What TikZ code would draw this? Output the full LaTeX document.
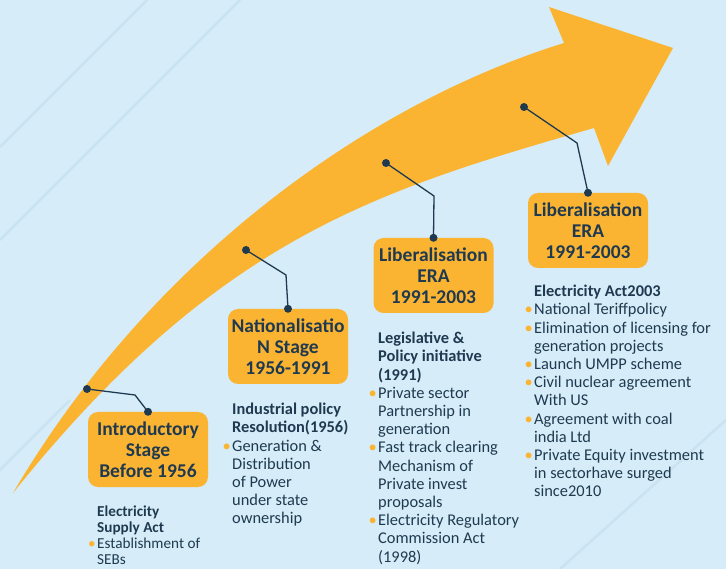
\documentclass[tikz,border=0pt]{standalone}
\usepackage{fontspec}
\setmainfont{Carlito}
\definecolor{bg}{HTML}{D6ECF8}
\definecolor{bgline}{HTML}{C3DDEC}
\definecolor{org}{HTML}{FBB432}
\definecolor{navy}{HTML}{1F3A50}
\newcommand{\mybul}{\llap{\textcolor{org}{\textbullet}\hspace{1.5pt}}}
\begin{document}
\begin{tikzpicture}[x=1pt,y=-1pt,
  stagebox/.style={fill=org, rounded corners=10pt, minimum width=120pt, minimum height=75pt,
    align=center, text=navy, inner sep=0pt, font=\bfseries\fontsize{19.5}{21}\selectfont},
  body/.style={anchor=north west, align=left, inner sep=0pt, text=navy,
    font=\fontsize{16.4}{18.2}\selectfont},
  conn/.style={draw=navy, line width=1.3pt},
  jdot/.style={circle, fill=navy, inner sep=0pt, minimum size=8pt}]
\useasboundingbox (0,0) rectangle (726,569);
\fill[bg] (0,0) rectangle (726,569);
% faint background texture
\begin{scope}[bgline, line width=2.5pt, opacity=0.6]
\draw (0,147) -- (147,0);
\draw (0,240) -- (240,0);
\draw (0,470) -- (70,400);
\draw (560,569) -- (726,420);
\end{scope}
% the big curved arrow
\fill[org] (13,493) .. controls (148,263) and (364,105) .. (564,43)
  -- (549,7) -- (673,48) -- (608,166) -- (594,128)
  .. controls (374,191) and (216,240) .. (13,493) -- cycle;
% stage boxes
\node[stagebox] (s1) at (148,449.5) {Introductory\\Stage\\Before 1956};
\node[stagebox] (s2) at (288,346.5) {Nationalisatio\\N Stage\\1956-1991};
\node[stagebox] (s3) at (433.5,275.5) {Liberalisation\\ERA\\1991-2003};
\node[stagebox] (s4) at (588,230.5) {Liberalisation\\ERA\\1991-2003};
% connectors
\node[jdot] (d1) at (87,389) {};
\node[jdot] (d2) at (246,250) {};
\node[jdot] (d3) at (386,163) {};
\node[jdot] (d4) at (524,107) {};
\coordinate (e1) at (135,395);
\coordinate (e2) at (286,275);
\coordinate (e3) at (434,196);
\coordinate (e4) at (577,143);
\node[jdot] (k1) at (s1.north) {};
\node[jdot] (k2) at (s2.north) {};
\node[jdot] (k3) at (s3.north) {};
\node[jdot] (k4) at (s4.north) {};
\draw[conn] (d1.center) -- (e1) -- (k1.center);
\draw[conn] (d2.center) -- (e2) -- (k2.center);
\draw[conn] (d3.center) -- (e3) -- (k3.center);
\draw[conn] (d4.center) -- (e4) -- (k4.center);
% text blocks
\node[body, font=\fontsize{15.2}{16.1}\selectfont] (b1) at (97,505.5)
  {\textbf{Electricity}\\\textbf{Supply Act}\\\mybul Establishment of\\SEBs};
\node[body] (b2) at (232,403)
  {\textbf{Industrial policy}\\\textbf{Resolution(1956)}\\\mybul Generation \&\\Distribution\\of Power\\under state\\ownership};
\node[body] (b3) at (378,332)
  {\textbf{Legislative \&}\\\textbf{Policy initiative}\\\textbf{(1991)}\\\mybul Private sector\\Partnership in\\generation\\\mybul Fast track clearing\\Mechanism of\\Private invest\\proposals\\\mybul Electricity Regulatory\\Commission Act\\(1998)};
\node[body] (b4) at (534,285)
  {\textbf{Electricity Act2003}\\\mybul National Teriffpolicy\\\mybul Elimination of licensing for\\generation projects\\\mybul Launch UMPP scheme\\\mybul Civil nuclear agreement\\With US\\\mybul Agreement with coal\\india Ltd\\\mybul Private Equity investment\\in sectorhave surged\\since2010};
\end{tikzpicture}
\end{document}
